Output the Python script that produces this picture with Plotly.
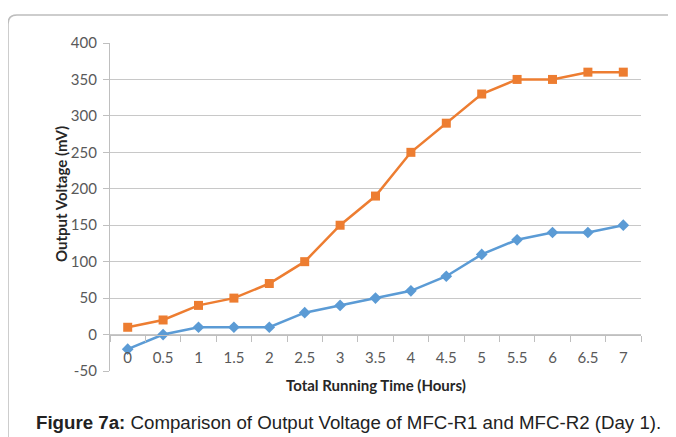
import plotly.graph_objects as go

hours = ["0", "0.5", "1", "1.5", "2", "2.5", "3", "3.5", "4", "4.5", "5", "5.5", "6", "6.5", "7"]
mfc_r1 = [-20, 0, 10, 10, 10, 30, 40, 50, 60, 80, 110, 130, 140, 140, 150]
mfc_r2 = [10, 20, 40, 50, 70, 100, 150, 190, 250, 290, 330, 350, 350, 360, 360]
y_ticks = [-50, 0, 50, 100, 150, 200, 250, 300, 350, 400]
y_tick_labels = ["-50", "0", "50", "100", "150", "200", "250", "300", "350", "400"]

OFF = 8  # default page body margin
W, H = 676 - OFF, 437 - OFF
L, R, T, B = 110 - OFF, 641 - OFF, 43 - OFF, 371 - OFF

def px(x):
    return (x - OFF - L) / (R - L)

def py(y):
    return (B - (y - OFF)) / (B - T)

fig = go.Figure()
fig.add_trace(go.Scatter(
    x=hours, y=mfc_r1, mode="lines+markers", name="MFC-R1",
    line=dict(color="#5B9BD5", width=2.5),
    marker=dict(symbol="diamond", size=9, color="#5B9BD5"),
))
fig.add_trace(go.Scatter(
    x=hours, y=mfc_r2, mode="lines+markers", name="MFC-R2",
    line=dict(color="#ED7D31", width=2.5),
    marker=dict(symbol="square", size=9, color="#ED7D31"),
))

ymin, ymax = -50, 400
fig.update_layout(
    width=W, height=H,
    margin=dict(l=L, r=W - R, t=T, b=H - B),
    paper_bgcolor="white", plot_bgcolor="white",
    showlegend=False,
    font=dict(family="Lato", color="#595959", size=15),
    xaxis=dict(
        type="category", tickson="boundaries",
        anchor="free", position=(0 - ymin) / (ymax - ymin),
        showgrid=False, showline=True, linecolor="#BFBFBF", linewidth=1.3,
        ticks="outside", ticklen=6, tickcolor="#BFBFBF",
        ticklabelstandoff=9,
        tickfont=dict(family="Lato", size=15, color="#595959"),
        range=[-0.5, 14.5], zeroline=False,
    ),
    yaxis=dict(
        range=[ymin, ymax], tickvals=y_ticks, ticktext=y_tick_labels,
        showgrid=True, gridcolor="#C8C8C8", gridwidth=1.3,
        showline=True, linecolor="#BFBFBF", linewidth=1.3,
        ticks="outside", ticklen=6, tickcolor="#BFBFBF",
        ticklabelstandoff=3,
        tickfont=dict(family="Lato", size=15, color="#595959"),
        zeroline=False,
    ),
)

# outer frame with rounded corner
x0, yt = px(8), py(15)
rx = 9 / (R - L)
ry = 9 / (B - T)
fig.add_shape(
    type="path", xref="paper", yref="paper",
    path=f"M {x0},{py(460)} L {x0},{yt - ry} Q {x0},{yt} {x0 + rx},{yt} L {px(700)},{yt}",
    line=dict(color="#BDBDBD", width=1.5), layer="below",
)

fig.add_annotation(
    text="<b>Output Voltage (mV)</b>", xref="paper", yref="paper",
    x=px(61), y=py(194), textangle=-90, showarrow=False,
    xanchor="center", yanchor="middle",
    font=dict(family="Lato", size=15, color="#262626"),
)
fig.add_annotation(
    text="<b>Total Running Time (Hours)</b>", xref="paper", yref="paper",
    x=px(376), y=py(385), showarrow=False,
    xanchor="center", yanchor="middle",
    font=dict(family="Lato", size=15, color="#262626"),
)
fig.add_annotation(
    text="<b>Figure 7a:</b> Comparison of Output Voltage of MFC-R1 and MFC-R2 (Day 1).",
    xref="paper", yref="paper", x=px(348), y=py(422), showarrow=False,
    xanchor="center", yanchor="middle",
    font=dict(family="Liberation Sans", size=18.7, color="#222222"),
)

fig.write_html("out.html")
